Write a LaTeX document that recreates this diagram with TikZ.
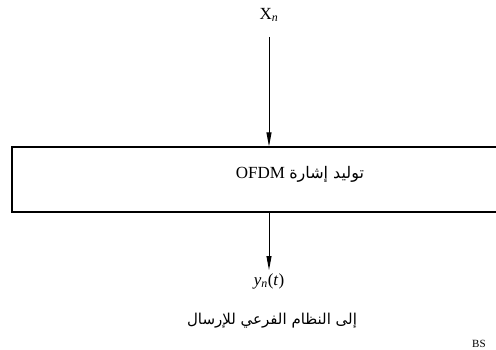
\documentclass[tikz,border=0pt]{standalone}
\usepackage{fontspec}
\setmainfont{Liberation Serif}
\newfontfamily\arabicfont[Script=Arabic]{DejaVu Sans}
\TeXXeTstate=1
\usetikzlibrary{arrows.meta}
\tikzset{
  arr/.style={line width=0.9pt,-{Triangle[length=14pt,width=5pt]}},
  blockbox/.style={draw,line width=1.3pt,minimum width=638pt,minimum height=65pt,inner sep=0pt},
  lbl/.style={inner sep=0pt,font=\fontsize{17}{20}\selectfont},
}
\begin{document}
\begin{tikzpicture}[x=1pt,y=1pt]
\useasboundingbox (0,0) rectangle (496,349);
\clip (0,0) rectangle (496,349);
\node[blockbox] (box) at (331,169.5) {};
\node[lbl] (boxtext) at (300,175) {OFDM {\arabicfont\fontsize{16}{19}\selectfont\beginR توليد إشارة\endR}};
\node[lbl] (xn) at (269,334) {X\textsubscript{\textit{n}}};
\node[lbl] (yn) at (269,68) {\textit{y}\textsubscript{\textit{n}}(\textit{t})};
\node[lbl] (dest) at (272,28) {\arabicfont\fontsize{15}{18}\selectfont\beginR إلى النظام الفرعي للإرسال\endR};
\node[inner sep=0pt,anchor=base west,font=\fontsize{11}{12}\selectfont] (bs) at (472,2) {BS};
\draw[arr,shorten <=22pt] (xn.center) -- (xn |- box.north);
\draw[arr,shorten >=11pt] (yn |- box.south) -- (yn.center);
\end{tikzpicture}
\end{document}
